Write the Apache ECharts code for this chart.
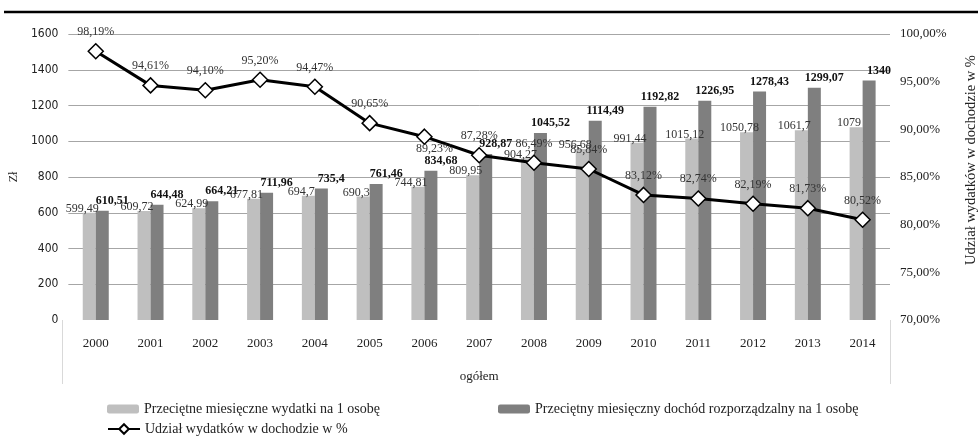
<!DOCTYPE html>
<html>
<head>
<meta charset="utf-8">
<script src="https://cdn.jsdelivr.net/npm/echarts@6/dist/echarts.min.js"></script>
<style>
  html, body { margin: 0; padding: 0; background: #fff; }
  #main { width: 978px; height: 443px; }
</style>
</head>
<body>
<div id="main"></div>
<script>
// data
const years = ['2000', '2001', '2002', '2003', '2004', '2005', '2006', '2007',
  '2008', '2009', '2010', '2011', '2012', '2013', '2014'];
const wydatki = [599.49, 609.72, 624.99, 677.81, 694.7, 690.3, 744.81, 809.95,
  904.27, 956.68, 991.44, 1015.12, 1050.78, 1061.7, 1079];
const dochod = [610.51, 644.48, 664.21, 711.96, 735.4, 761.46, 834.68, 928.87,
  1045.52, 1114.49, 1192.82, 1226.95, 1278.43, 1299.07, 1340];
const udzial = [98.19, 94.61, 94.10, 95.20, 94.47, 90.65, 89.23, 87.28,
  86.49, 85.84, 83.12, 82.74, 82.19, 81.73, 80.52];

const nameA = 'Przeciętne miesięczne wydatki na 1 osobę';
const nameB = 'Przeciętny miesięczny dochód rozporządzalny na 1 osobę';
const nameC = 'Udział wydatków w dochodzie w %';

const serif = '"Liberation Serif", "DejaVu Serif", serif';
const narrow = '"Liberation Sans Narrow", "DejaVu Sans Condensed", "Liberation Sans", sans-serif';
const pl = v => String(v).replace('.', ',');

const chart = echarts.init(document.getElementById('main'));

// per-point placement of the % labels (one sits under its marker in the original)
const lineData = udzial.map((v, i) => ({
  value: v,
  label: i === 6 ? { position: 'bottom', distance: 2, offset: [10, -4] } : {}
}));

const legendText = { fontFamily: serif, fontSize: 14, color: '#222' };

chart.setOption({
  animation: false,
  backgroundColor: '#fff',
  grid: { left: 62, right: 88, top: 34, bottom: 123 },
  legend: [
    { data: [nameA], left: 107, top: 402, padding: 0, itemWidth: 32, itemHeight: 9, itemGap: 2, textStyle: legendText },
    { data: [nameB], left: 498, top: 402, padding: 0, itemWidth: 32, itemHeight: 9, itemGap: 2, textStyle: legendText },
    { data: [nameC], left: 107, top: 422, padding: 0, itemWidth: 32, itemHeight: 12, itemGap: 2, textStyle: legendText }
  ],
  xAxis: {
    type: 'category',
    data: years,
    name: 'ogółem',
    nameLocation: 'middle',
    nameGap: 50,
    nameTextStyle: { fontFamily: serif, fontSize: 13, color: '#222' },
    axisLine: { show: false },
    axisTick: { show: false },
    axisLabel: { fontFamily: serif, fontSize: 13, color: '#222', margin: 17 }
  },
  yAxis: [
    {
      type: 'value', min: 0, max: 1600, interval: 200,
      name: 'Zł', nameLocation: 'middle', nameGap: 40, nameRotate: 90,
      nameTextStyle: { fontFamily: serif, fontSize: 12, color: '#222' },
      axisLine: { show: false }, axisTick: { show: false },
      axisLabel: { fontFamily: narrow, fontSize: 12, color: '#222', margin: 10, formatter: v => String(v) },
      splitLine: {
        lineStyle: {
          color: ['rgba(0,0,0,0)', '#a6a6a6', '#a6a6a6', '#a6a6a6', '#a6a6a6',
            '#a6a6a6', '#a6a6a6', '#a6a6a6', '#a6a6a6'],
          width: 1
        }
      }
    },
    {
      type: 'value', min: 70, max: 100, interval: 5, position: 'right',
      axisLine: { show: false }, axisTick: { show: false }, splitLine: { show: false },
      axisLabel: {
        fontFamily: serif, fontSize: 13, color: '#222', margin: 10,
        formatter: v => v.toFixed(2).replace('.', ',') + '%'
      }
    }
  ],
  graphic: [
    { type: 'line', shape: { x1: 4, y1: 12, x2: 978, y2: 12 }, style: { stroke: '#000', lineWidth: 2.5 } },
    { type: 'line', shape: { x1: 62.5, y1: 320, x2: 62.5, y2: 384 }, style: { stroke: '#d9d9d9', lineWidth: 1 } },
    { type: 'line', shape: { x1: 890.5, y1: 320, x2: 890.5, y2: 384 }, style: { stroke: '#d9d9d9', lineWidth: 1 } },
    {
      type: 'text', x: 971, y: 160, rotation: Math.PI / 2,
      style: { text: nameC, fontFamily: serif, fontSize: 14.5, fill: '#222', align: 'center', verticalAlign: 'middle' }
    }
  ],
  series: [
    {
      name: nameA, type: 'bar', data: wydatki, barWidth: 13, barGap: '0%',
      itemStyle: { color: '#bfbfbf' },
      label: {
        show: true, position: 'top', distance: 0, offset: [-7, 2],
        fontFamily: serif, fontSize: 12, color: '#333',
        formatter: p => pl(p.value)
      }
    },
    {
      name: nameB, type: 'bar', data: dochod, barWidth: 13, barGap: '0%',
      itemStyle: { color: '#7f7f7f' },
      label: {
        show: true, position: 'top', distance: 4, offset: [10, 0],
        fontFamily: serif, fontSize: 12, fontWeight: 'bold', color: '#111',
        formatter: p => pl(p.value)
      }
    },
    {
      name: nameC, type: 'line', yAxisIndex: 1, data: lineData,
      symbol: 'diamond', symbolSize: 15,
      lineStyle: { color: '#000', width: 3 },
      itemStyle: { color: '#fff', borderColor: '#000', borderWidth: 1.5 },
      label: {
        show: true, position: 'top', distance: 5,
        fontFamily: serif, fontSize: 12, color: '#333',
        formatter: p => p.value.toFixed(2).replace('.', ',') + '%'
      },
      z: 5
    }
  ]
});
</script>
</body>
</html>
